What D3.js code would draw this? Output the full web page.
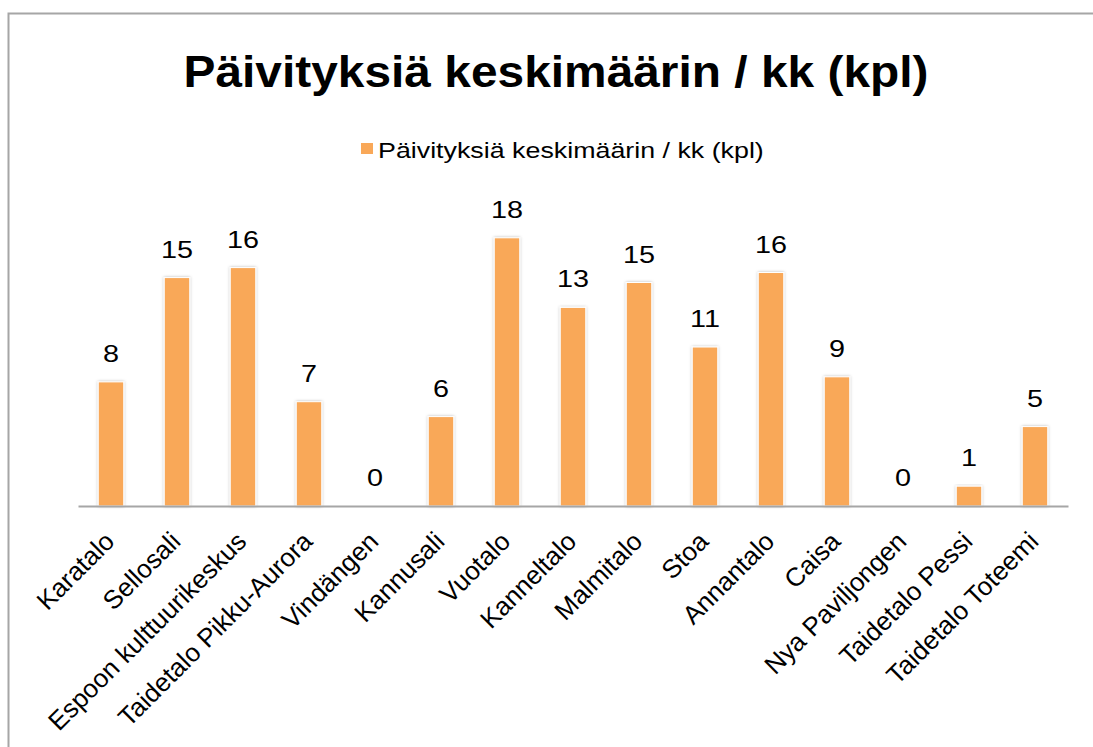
<!DOCTYPE html>
<html>
<head>
<meta charset="utf-8">
<script src="https://cdn.jsdelivr.net/npm/d3@7"></script>
<style>
  body { margin: 0; background: #fff; }
  text { font-family: "Liberation Sans", Arial, sans-serif; fill: #000; }
</style>
</head>
<body>
<div id="chart"></div>
<script>
var categories = ["Karatalo", "Sellosali", "Espoon kulttuurikeskus", "Taidetalo Pikku-Aurora",
  "Vindängen", "Kannusali", "Vuotalo", "Kanneltalo", "Malmitalo", "Stoa", "Annantalo",
  "Caisa", "Nya Paviljongen", "Taidetalo Pessi", "Taidetalo Toteemi"];
var values = [8.33, 15.33, 16, 7, 0, 6, 18, 13.33, 15, 10.67, 15.67, 8.67, 0, 1.33, 5.33];
var seriesName = "Päivityksiä keskimäärin / kk (kpl)";
var chartTitle = "Päivityksiä keskimäärin / kk (kpl)";

var w = 1093, h = 747;
var baseY = 506, topY = 208;

var svg = d3.select("#chart").append("svg")
  .attr("width", w)
  .attr("height", h);

// soft shadow like the office chart
var defs = svg.append("defs");
var f = defs.append("filter").attr("id", "shadow")
  .attr("x", "-30%").attr("y", "-10%").attr("width", "160%").attr("height", "120%");
f.append("feDropShadow").attr("dx", 0).attr("dy", 0)
  .attr("stdDeviation", 1.6).attr("flood-color", "#000").attr("flood-opacity", 0.28);

// chart frame
svg.append("rect")
  .attr("x", 8.5).attr("y", 13.5)
  .attr("width", 1200).attr("height", 1000)
  .attr("fill", "none").attr("stroke", "#a6a6a6").attr("stroke-width", 2);

var xScale = d3.scaleBand()
  .domain(categories)
  .range([78, 1068])
  .paddingInner(0.614)
  .paddingOuter(0.307);

var yScale = d3.scaleLinear()
  .domain([0, 20])
  .range([baseY, topY]);

// title (text in the reference is a bit wide, so stretch it a little)
svg.append("text")
  .attr("transform", "translate(556,87) scale(1.088,1)")
  .attr("text-anchor", "middle")
  .style("font-size", "44px")
  .style("font-weight", "bold")
  .text(chartTitle);

// legend
var legend = svg.append("g").attr("transform", "translate(361,143)");
legend.append("rect").attr("width", 12).attr("height", 11).attr("fill", "#f9a858");
legend.append("text")
  .attr("transform", "translate(17,14.5) scale(1.247,1)")
  .style("font-size", "21.5px")
  .text(seriesName);

// bars
svg.append("g").selectAll("rect")
  .data(values)
  .enter()
  .append("rect")
  .attr("x", function(d, i) { return xScale(categories[i]); })
  .attr("y", function(d) { return yScale(d); })
  .attr("width", xScale.bandwidth())
  .attr("height", function(d) { return baseY - yScale(d); })
  .attr("fill", "#f9a858")
  .attr("stroke", "#fff")
  .attr("stroke-width", 1)
  .attr("filter", "url(#shadow)");

// axis line
var xAxis = d3.axisBottom(xScale).tickSize(0).tickFormat("");
svg.append("g")
  .attr("class", "x-axis")
  .attr("transform", "translate(0," + baseY + ")")
  .call(xAxis)
  .call(function(g) { g.select(".domain").attr("stroke", "#a6a6a6").attr("stroke-width", 2); });

// value labels
svg.append("g").selectAll("text")
  .data(values)
  .enter()
  .append("text")
  .attr("transform", function(d, i) {
    var cx = xScale(categories[i]) + xScale.bandwidth() / 2;
    return "translate(" + cx + "," + (yScale(d) - 20) + ") scale(1.2,1)";
  })
  .attr("text-anchor", "middle")
  .style("font-size", "24px")
  .text(function(d) { return Math.round(d); });

// category labels
svg.append("g").selectAll("text")
  .data(categories)
  .enter()
  .append("text")
  .attr("text-anchor", "end")
  .style("font-size", "26px")
  .attr("transform", function(d) {
    var cx = xScale(d) + xScale.bandwidth() / 2 + 5;
    return "translate(" + cx + ",543) rotate(-45)";
  })
  .text(function(d) { return d; });
</script>
</body>
</html>
